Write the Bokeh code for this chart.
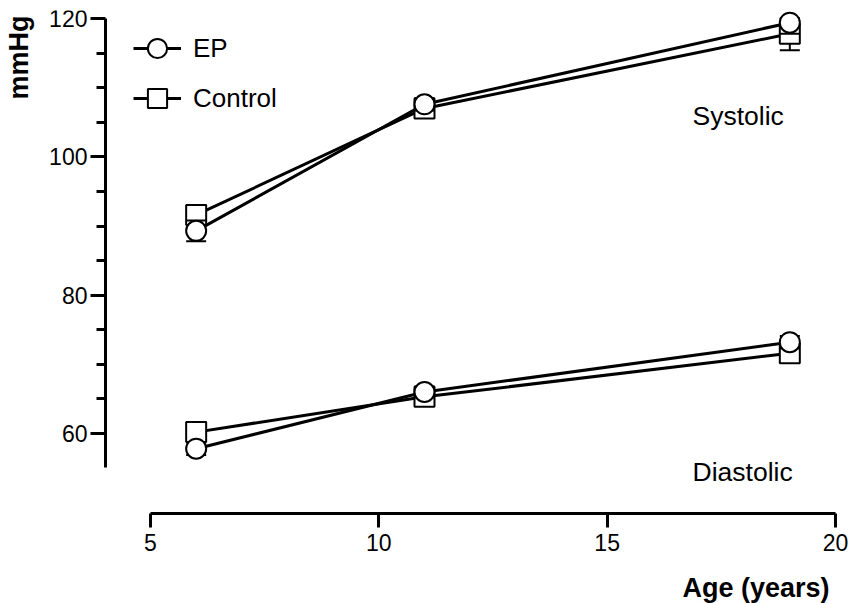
import numpy as np
from bokeh.plotting import figure
from bokeh.models import (Range1d, LinearAxis, FixedTicker, Legend, LegendItem,
                          Label)
from bokeh.embed import file_html
from bokeh.resources import INLINE

# ---- data ----
age = [6, 11, 19]
sys_ep = [89.3, 107.6, 119.4]
sys_ep_se = [1.5, 0.9, 1.6]
sys_ctrl = [91.6, 107.0, 117.8]
sys_ctrl_se = [1.45, 0.9, 2.4]
dia_ep = [57.8, 66.0, 73.2]
dia_ep_se = [0.9, 0.8, 0.9]
dia_ctrl = [60.2, 65.3, 71.6]
dia_ctrl_se = [1.45, 0.8, 1.0]
x_ticks = [5, 10, 15, 20]
y_ticks = [60, 80, 100, 120]
y_minor = [65, 70, 75, 85, 90, 95, 105, 110, 115]
Y_AXIS_MAX = 120

FONT = "Liberation Sans"

# frame fills the canvas (except a small top margin); axes are pinned
p = figure(width=850, height=603, output_backend="svg", toolbar_location=None,
           x_range=Range1d(1.7153, 20.329), y_range=Range1d(35.42, 121.16),
           x_axis_type=None, y_axis_type=None,
           min_border_left=0, min_border_right=0, min_border_top=10,
           min_border_bottom=0)
p.outline_line_color = None
p.background_fill_color = "white"
p.border_fill_color = "white"


def series(y, se, marker):
    y = np.array(y)
    se = np.array(se)
    lo, hi = y - se, np.minimum(y + se, Y_AXIS_MAX)
    p.segment(x0=age, y0=lo, x1=age, y1=hi, line_color="black", line_width=2)
    p.scatter(age, lo, marker="dash", size=20, line_color="black", line_width=2)
    p.scatter(age, hi, marker="dash", size=20, line_color="black", line_width=2)
    ln = p.line(age, y, line_color="black", line_width=3)
    sc = p.scatter(age, y, marker=marker, size=20, fill_color="white",
                   line_color="black", line_width=2)
    return ln, sc


c_ln, c_sc = series(sys_ctrl, sys_ctrl_se, "square")
series(dia_ctrl, dia_ctrl_se, "square")
e_ln, e_sc = series(sys_ep, sys_ep_se, "circle")
series(dia_ep, dia_ep_se, "circle")

# axes
yaxis = LinearAxis(ticker=FixedTicker(ticks=y_ticks, minor_ticks=y_minor),
                   bounds=(55.15, 120), fixed_location=4.0146)
yaxis.axis_line_width = 3
yaxis.major_tick_line_width = 3
yaxis.minor_tick_line_width = 3
yaxis.major_tick_out = 15
yaxis.major_tick_in = 0
yaxis.minor_tick_out = 9
yaxis.minor_tick_in = 0
yaxis.major_label_standoff = 3
yaxis.major_label_text_font = FONT
yaxis.major_label_text_font_size = "23px"
yaxis.major_label_text_color = "black"
p.add_layout(yaxis, "left")

xaxis = LinearAxis(ticker=FixedTicker(ticks=x_ticks, minor_ticks=[]),
                   bounds=(5, 20), fixed_location=48.43)
xaxis.axis_line_width = 3
xaxis.major_tick_line_width = 3
xaxis.major_tick_out = 14
xaxis.major_tick_in = 0
xaxis.minor_tick_out = 0
xaxis.minor_tick_in = 0
xaxis.major_label_standoff = 6
xaxis.major_label_text_font = FONT
xaxis.major_label_text_font_size = "23px"
xaxis.major_label_text_color = "black"
p.add_layout(xaxis, "below")

# axis titles
p.add_layout(Label(x=2.11, y=120.43, text="mmHg", text_font=FONT,
                   text_font_size="27px", text_font_style="bold",
                   text_color="black", angle=np.pi / 2, text_align="right",
                   text_baseline="middle"))
p.add_layout(Label(x=19.87, y=37.65, text="Age (years)", text_font=FONT,
                   text_font_size="27px", text_font_style="bold",
                   text_color="black", text_align="right",
                   text_baseline="middle"))

p.add_layout(Label(x=16.87, y=105.9, text="Systolic", text_font=FONT,
                   text_font_size="26.5px", text_baseline="middle",
                   text_color="black"))
p.add_layout(Label(x=16.87, y=54.5, text="Diastolic", text_font=FONT,
                   text_font_size="26.5px", text_baseline="middle",
                   text_color="black"))

legend = Legend(items=[LegendItem(label="EP", renderers=[e_ln, e_sc]),
                       LegendItem(label="Control", renderers=[c_ln, c_sc])],
                location=(133, 480), glyph_width=48, glyph_height=50,
                label_height=50, spacing=0, padding=0, margin=0,
                label_standoff=12, label_text_font=FONT,
                label_text_font_size="26px", label_text_color="black",
                border_line_color=None, background_fill_alpha=0)
p.add_layout(legend)

open("out.html", "w").write(file_html(p, INLINE))
